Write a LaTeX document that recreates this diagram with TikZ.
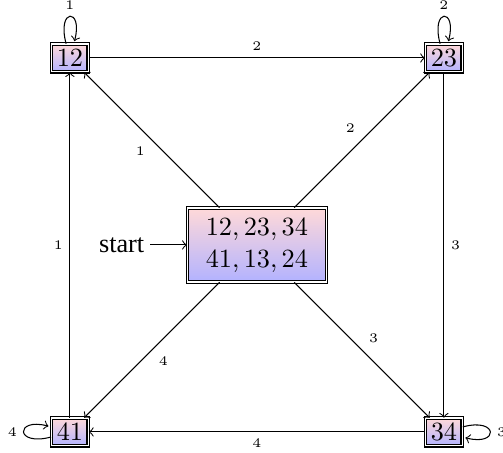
\documentclass[tikz,border=0pt]{standalone}
\usepackage{fontspec}
\setmainfont{Liberation Serif}
\usetikzlibrary{positioning}

\begin{document}
\begin{tikzpicture}[
      every node/.style={inner sep=2pt},
      set/.style={draw, double, rectangle, top color=red!15, bottom color=blue!30},
      lbl/.style={font=\tiny, inner sep=2.5pt},
      every edge/.style={draw, ->},
      auto,
  ]
    \useasboundingbox (-3.435,-2.78) rectangle (3.29,3.275);

    \node[set] (c) {$\begin{array}{c}12,23,34\\41,13,24\end{array}$};
    \node[left=14pt of c] (start) {start};

    \node[set] (n12) at (-2.5,2.5)  {$12$};
    \node[set] (n23) at (2.5,2.5)   {$23$};
    \node[set] (n34) at (2.5,-2.5)  {$34$};
    \node[set] (n41) at (-2.5,-2.5) {$41$};

    \draw[->] (start) -- (c);

    \path (c)   edge node[lbl] {$1$} (n12)
                edge node[lbl] {$2$} (n23)
                edge node[lbl] {$3$} (n34)
                edge node[lbl] {$4$} (n41)
          (n12) edge node[lbl] {$2$} (n23)
          (n23) edge node[lbl] {$3$} (n34)
          (n34) edge node[lbl] {$4$} (n41)
          (n41) edge node[lbl] {$1$} (n12);

    % self loops
    \path (n12) edge[loop above] node[lbl] {$1$} ()
          (n23) edge[loop above] node[lbl] {$2$} ()
          (n34) edge[loop right] node[lbl] {$3$} ()
          (n41) edge[loop left]  node[lbl] {$4$} ();
\end{tikzpicture}
\end{document}
